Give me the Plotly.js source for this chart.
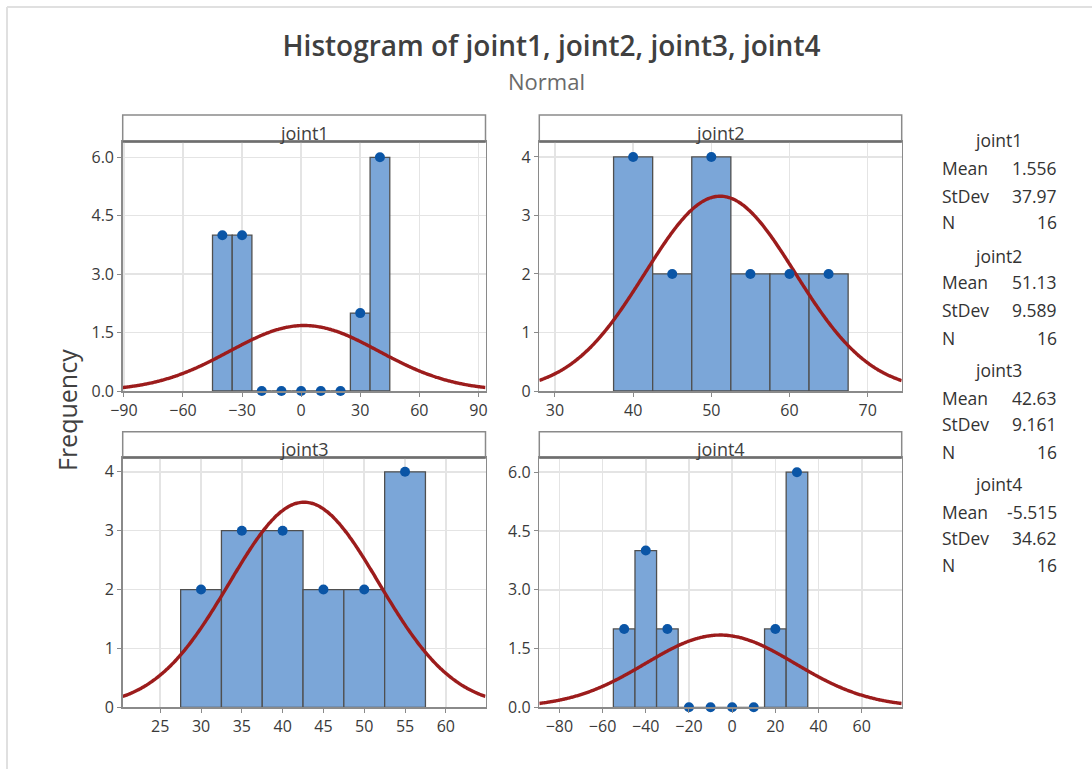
<!DOCTYPE html>
<html>
<head>
<meta charset="utf-8">
<script src="https://cdn.plot.ly/plotly-3.0.1.min.js"></script>
<style>html,body{margin:0;padding:0;background:#fff;}#chart{width:1092px;height:769px;}</style>
</head>
<body>
<div id="chart"></div>
<script>
// ---- data ----
const names = ['joint1', 'joint2', 'joint3', 'joint4'];
const binCenters1 = [-40, -30, -20, -10, 0, 10, 20, 30, 40];
const counts1 = [4, 4, 0, 0, 0, 0, 0, 2, 6];
const binCenters2 = [40, 45, 50, 55, 60, 65];
const counts2 = [4, 2, 4, 2, 2, 2];
const binCenters3 = [30, 35, 40, 45, 50, 55];
const counts3 = [2, 3, 3, 2, 2, 4];
const binCenters4 = [-50, -40, -30, -20, -10, 0, 10, 20, 30];
const counts4 = [2, 4, 2, 0, 0, 0, 0, 2, 6];
const binWidths = [10, 5, 5, 10];
const means = [1.556, 51.13, 42.63, -5.515];
const stdevs = [37.97, 9.589, 9.161, 34.62];
const ns = [16, 16, 16, 16];
const meanLabels = ['1.556', '51.13', '42.63', '-5.515'];
const stdevLabels = ['37.97', '9.589', '9.161', '34.62'];
const xTicks1 = [-90, -60, -30, 0, 30, 60, 90];
const xTicks2 = [30, 40, 50, 60, 70];
const xTicks3 = [25, 30, 35, 40, 45, 50, 55, 60];
const xTicks4 = [-80, -60, -40, -20, 0, 20, 40, 60];
const yTicks1 = [0, 1.5, 3.0, 4.5, 6.0];
const yTicks2 = [0, 1, 2, 3, 4];
const yTicks3 = [0, 1, 2, 3, 4];
const yTicks4 = [0, 1.5, 3.0, 4.5, 6.0];

// ---- layout geometry ----
const W = 1092, H = 769;
const px = v => v / W;
const py = v => 1 - v / H;
const xRanges = [[-90.6, 93.6], [28.0, 74.35], [20.4, 64.86], [-89.3, 78.5]];
const yRanges = [[0, 6.4], [0, 4.26], [0, 4.24], [0, 6.37]];
const xDomains = [[122.7, 485.5], [539.3, 901.7], [122.7, 485.5], [539.3, 901.7]];
const yDomains = [[391, 141.7], [391, 141.7], [707.3, 457.7], [707.3, 457.7]];
const stripTops = [115, 115, 431.7, 431.7];

const centers = [binCenters1, binCenters2, binCenters3, binCenters4];
const counts = [counts1, counts2, counts3, counts4];
const xTicks = [xTicks1, xTicks2, xTicks3, xTicks4];
const yTicks = [yTicks1, yTicks2, yTicks3, yTicks4];

const barColor = '#7ba6d8', edgeColor = '#4f4f4f', dotColor = '#0a55a6', curveColor = '#9c1c1c';
const fontFam = '"Open Sans", "Noto Sans", sans-serif';

const traces = [];
const layout = {
  width: W, height: H,
  margin: {l: 0, r: 0, t: 0, b: 0},
  paper_bgcolor: '#fff', plot_bgcolor: '#fff',
  showlegend: false,
  font: {family: fontFam, color: '#333'},
  title: {
    text: 'Histogram of joint1, joint2, joint3, joint4',
    font: {family: fontFam, size: 28, color: '#404040', weight: 600},
    x: 551.5 / W, xanchor: 'center', xref: 'container',
    y: 1 - 46 / H, yanchor: 'middle', yref: 'container'
  },
  shapes: [],
  annotations: []
};

for (let i = 0; i < 4; i++) {
  const sfx = i === 0 ? '' : String(i + 1);
  const xa = 'x' + sfx, ya = 'y' + sfx;
  const w = binWidths[i];
  traces.push({
    type: 'bar', x: centers[i], y: counts[i], width: w,
    xaxis: xa, yaxis: ya,
    marker: {color: barColor, line: {color: edgeColor, width: 1.3}},
    hoverinfo: 'x+y'
  });
  // fitted normal curve from the reported mean / stdev
  const cx = [], cy = [];
  const [a, b] = xRanges[i];
  for (let k = 0; k <= 240; k++) {
    const x = a + (b - a) * k / 240;
    const z = (x - means[i]) / stdevs[i];
    cx.push(x);
    cy.push(ns[i] * w * Math.exp(-0.5 * z * z) / (stdevs[i] * Math.sqrt(2 * Math.PI)));
  }
  traces.push({
    type: 'scatter', mode: 'lines', x: cx, y: cy, xaxis: xa, yaxis: ya,
    line: {color: curveColor, width: 3.4, shape: 'spline'}, hoverinfo: 'skip'
  });
  traces.push({
    type: 'scatter', mode: 'markers', x: centers[i], y: counts[i], xaxis: xa, yaxis: ya,
    marker: {color: dotColor, size: 10}, cliponaxis: false
  });

  const axCommon = {
    showgrid: true, gridcolor: '#e4e4e4', gridwidth: 1.5,
    showline: true, linecolor: '#8a8a8a', linewidth: 1.5, mirror: true,
    ticks: 'outside', ticklen: 4, tickcolor: '#8a8a8a', tickwidth: 1,
    zeroline: false, fixedrange: true,
    tickfont: {family: fontFam, size: 16, color: '#3a3a3a'}
  };
  layout['xaxis' + sfx] = Object.assign({}, axCommon, {
    domain: [px(xDomains[i][0]), px(xDomains[i][1])],
    range: xRanges[i], anchor: ya, tickmode: 'array', tickvals: xTicks[i]
  });
  const yfmt = (i === 0 || i === 3) ? '.1f' : 'd';
  layout['yaxis' + sfx] = Object.assign({}, axCommon, {
    domain: [py(yDomains[i][0]), py(yDomains[i][1])],
    range: yRanges[i], anchor: xa, tickmode: 'array', tickvals: yTicks[i], tickformat: yfmt
  });
  // strip header
  layout.shapes.push({
    type: 'rect', xref: 'paper', yref: 'paper',
    x0: px(xDomains[i][0]), x1: px(xDomains[i][1]),
    y0: py(yDomains[i][1]), y1: py(stripTops[i]),
    line: {color: '#8a8a8a', width: 1.5}, fillcolor: '#fff', layer: 'below'
  });
  layout.shapes.push({
    type: 'line', xref: 'paper', yref: 'paper',
    x0: px(xDomains[i][0]), x1: px(xDomains[i][1]),
    y0: py(yDomains[i][1]), y1: py(yDomains[i][1]),
    line: {color: '#6e6e6e', width: 2}
  });
  layout.annotations.push({
    text: names[i], showarrow: false, xref: 'paper', yref: 'paper',
    x: px((xDomains[i][0] + xDomains[i][1]) / 2), xanchor: 'center',
    y: py(yDomains[i][1] - 9), yanchor: 'middle',
    font: {family: fontFam, size: 18, color: '#404040'}
  });
}

// subtitle and y-axis label
layout.annotations.push({
  text: 'Normal', showarrow: false, xref: 'paper', yref: 'paper',
  x: px(546.5), xanchor: 'center', y: py(81), yanchor: 'middle',
  font: {family: fontFam, size: 22, color: '#6a6a6a'}
});
layout.annotations.push({
  text: 'Frequency', showarrow: false, xref: 'paper', yref: 'paper', textangle: -90,
  x: px(67), xanchor: 'center', y: py(410), yanchor: 'middle',
  font: {family: fontFam, size: 25, color: '#404040'}
});

// stats table
const statRowY = [[140, 168, 196, 222], [256, 282, 310, 338], [370, 398, 424, 452], [484, 512, 538, 565]];
const statFont = {family: fontFam, size: 17.5, color: '#333'};
for (let i = 0; i < 4; i++) {
  const r = statRowY[i];
  layout.annotations.push({text: names[i], showarrow: false, xref: 'paper', yref: 'paper',
    x: px(998), xanchor: 'center', y: py(r[0]), yanchor: 'middle', font: statFont});
  const labels = ['Mean', 'StDev', 'N'];
  const vals = [meanLabels[i], stdevLabels[i], String(ns[i])];
  for (let j = 0; j < 3; j++) {
    layout.annotations.push({text: labels[j], showarrow: false, xref: 'paper', yref: 'paper',
      x: px(940), xanchor: 'left', y: py(r[j + 1]), yanchor: 'middle', font: statFont});
    layout.annotations.push({text: vals[j], showarrow: false, xref: 'paper', yref: 'paper',
      x: px(1059), xanchor: 'right', y: py(r[j + 1]), yanchor: 'middle', font: statFont});
  }
}

// outer frame (top and left edges)
layout.shapes.push({type: 'line', xref: 'paper', yref: 'paper', x0: px(7), x1: 1, y0: py(7), y1: py(7),
  line: {color: '#e0e0e0', width: 2}});
layout.shapes.push({type: 'line', xref: 'paper', yref: 'paper', x0: px(7), x1: px(7), y0: 0, y1: py(7),
  line: {color: '#e0e0e0', width: 2}});

Plotly.newPlot('chart', traces, layout, {displayModeBar: false, staticPlot: true});
</script>
</body>
</html>
